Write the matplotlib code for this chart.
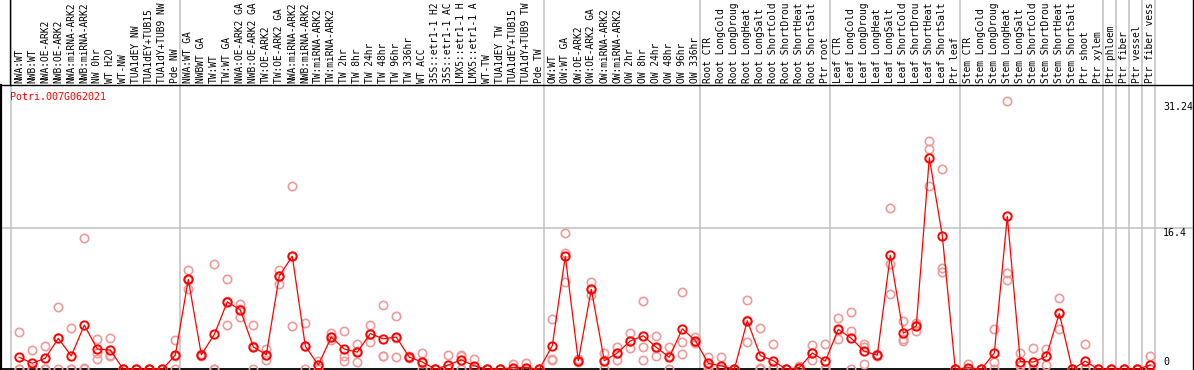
import matplotlib
matplotlib.use("Agg")
import matplotlib.pyplot as plt
from matplotlib.transforms import blended_transform_factory
import numpy as np

# sample labels, grouped by experiment
labels = [
    "NWA:WT", "NWB:WT", "NWA:OE-ARK2", "NWB:OE-ARK2", "NWA:miRNA-ARK2", "NWB:miRNA-ARK2",
    "NW 0hr", "WT H2O", "WT-NW", "TUA1dEY NW", "TUA1dEY+TUB15 NW", "TUA1dY+TUB9 NW", "Pde NW",
    "NWA:WT GA", "NWBWT GA", "TW:WT", "TW:WT GA", "NWA:OE-ARK2 GA", "NWB:OE-ARK2 GA",
    "TW:OE-ARK2", "TW:OE-ARK2 GA", "NWA:miRNA-ARK2 GA", "NWB:miRNA-ARK2 GA", "TW:miRNA-ARK2",
    "TW:miRNA-ARK2 GA", "TW 2hr", "TW 8hr", "TW 24hr", "TW 48hr", "TW 96hr", "TW 336hr",
    "WT ACC", "35S::etr1-1 H2O", "35S::etr1-1 ACC", "LMX5::etr1-1 H2O", "LMX5::etr1-1 ACC",
    "WT-TW", "TUA1dEY TW", "TUA1dEY+TUB15 TW", "TUA1dY+TUB9 TW", "Pde TW",
    "OW:WT", "OW:WT GA", "OW:OE-ARK2", "OW:OE-ARK2 GA", "OW:miRNA-ARK2", "OW:miRNA-ARK2 GA",
    "OW 2hr", "OW 8hr", "OW 24hr", "OW 48hr", "OW 96hr", "OW 336hr",
    "Root CTR", "Root LongCold", "Root LongDrought", "Root LongHeat", "Root LongSalt",
    "Root ShortCold", "Root ShortDrought", "Root ShortHeat", "Root ShortSalt", "Ptr root",
    "Leaf CTR", "Leaf LongCold", "Leaf LongDrought", "Leaf LongHeat", "Leaf LongSalt",
    "Leaf ShortCold", "Leaf ShortDrought", "Leaf ShortHeat", "Leaf ShortSalt", "Ptr leaf",
    "Stem CTR", "Stem LongCold", "Stem LongDrought", "Stem LongHeat", "Stem LongSalt",
    "Stem ShortCold", "Stem ShortDrought", "Stem ShortHeat", "Stem ShortSalt", "Ptr shoot",
    "Ptr xylem", "Ptr phloem", "Ptr fiber", "Ptr vessel", "Ptr fiber vessel",
]
group_sizes = [13, 28, 12, 10, 10, 11, 1, 1, 1, 1]

means = [
    1.4, 0.7, 1.3, 3.6, 1.55, 5.15, 2.35, 2.25, 0, 0, 0, 0, 1.65,
    10.45, 1.7, 4.05, 7.85, 6.9, 2.6, 1.7, 10.85, 13.15, 2.7, 0.5, 3.75, 2.35, 2.0,
    4.15, 3.55, 3.75, 1.4, 0.85, 0, 0.5, 1.1, 0.4, 0, 0, 0.2, 0.2, 0,
    2.75, 13.15, 1.0, 9.3, 1.0, 1.9, 3.3, 3.9, 2.55, 1.4, 4.7, 3.35,
    0.7, 0.4, 0, 5.65, 1.6, 1.0, 0, 0.2, 1.9, 0.95,
    4.65, 3.6, 2.1, 1.65, 13.25, 4.2, 5.05, 24.6, 15.55, 0,
    0.2, 0, 1.9, 17.8, 0.9, 0.85, 1.5, 6.5, 0, 0.95,
    0, 0, 0, 0, 0.5,
]

replicates = [
    [4.3, 0, 0], [2.25, 0, 0], [2.7, 0, 0], [7.2, 0, 3.6], [4.75, 0, 0], [15.3, 0, 0.1],
    [3.5, 1.9, 1.2], [3.6, 1.5, 1.7], [0, 0, 0], [0, 0, 0], [0, 0, 0], [0, 0, 0], [3.4, 0, 1.5],
    [11.6, 9.3, 10.4], [1.7, 1.6, 1.8], [12.3, 0, 0], [10.5, 5.1, 7.9], [7.55, 6.1, 7.0],
    [5.1, 0, 2.7], [2.35, 1.1, 1.7], [11.6, 9.95, 10.9], [21.3, 5.0, 13.2], [5.35, 0, 2.7],
    [1.0, 0, 0.5], [4.25, 3.4, 3.7], [4.45, 1.5, 1.0], [2.95, 0.85, 2.1], [5.2, 3.2, 4.1],
    [7.45, 1.55, 1.6], [6.25, 1.4, 3.6], [1.5, 1.3, 1.4], [1.85, 0, 0.7], [0, 0, 0],
    [1.65, 0, 0], [1.7, 1.5, 0], [1.2, 0, 0], [0, 0, 0], [0, 0, 0], [0.65, 0, 0],
    [0.7, 0, 0], [0, 0, 0],
    [5.9, 1.1, 1.25], [15.8, 10.1, 13.5], [1.2, 0.9, 1.0], [10.1, 8.6, 9.3], [1.9, 0, 1.1],
    [2.65, 1.1, 1.9], [4.25, 2.5, 3.3], [7.9, 2.55, 1.1], [3.9, 1.5, 2.5], [2.55, 0, 1.5],
    [8.95, 3.15, 1.75], [3.8, 3.2, 3.1],
    [1.4, 0.5, 0.2], [1.4, 0, 0], [0, 0, 0], [8.05, 3.2, 5.7], [4.8, 0, 0.1], [2.9, 0, 0.2],
    [0, 0, 0], [0.2, 0, 0.4], [2.8, 1.1, 1.9], [3.0, 0, 0],
    [6.0, 3.5, 4.6], [6.65, 4.5, 0], [3.0, 0.65, 2.6], [1.8, 1.6, 1.6], [18.7, 12.2, 8.7],
    [5.6, 3.5, 3.3], [5.35, 4.5, 5.2], [26.5, 25.6, 21.3], [23.3, 11.8, 11.3], [0, 0, 0],
    [0.6, 0, 0], [0, 0, 0], [4.65, 0.9, 0], [31.24, 11.2, 10.4], [1.9, 0.4, 0.5],
    [2.45, 0, 0], [2.4, 0.5, 1.6], [8.25, 4.65, 6.5], [0, 0, 0], [3.0, 0, 0],
    [0, 0, 0], [0, 0, 0], [0, 0, 0], [0, 0, 0], [1.55, 0, 0],
]

y_ticks = [31.24, 16.4, 0]
gene = "Potri.007G062021"

W, H = 1194, 370
top_px = 85          # height of the label strip
mono = "DejaVu Sans Mono"
fs = 7.2
max_chars = 14       # the strip only has room for this many characters

fig = plt.figure(figsize=(W / 100, H / 100), dpi=100)
ax = fig.add_axes([1 / W, 0, 1192 / W, (H - top_px) / H])
ax.set_xlim((1 - 19.3) / 13, (1193 - 19.3) / 13)
ax.set_ylim(-0.08, 33.06)
ax.set_xticks([])
ax.set_yticks([])
ax.spines["bottom"].set_visible(False)
ax.spines["left"].set_linewidth(1.6)
for s in ["top", "right"]:
    ax.spines[s].set_linewidth(1.0)

x = np.arange(len(labels))

# group separators
bounds = [-0.66] + list(np.cumsum(group_sizes) - 1 + 0.36)
ymax = H / (H - top_px)
for b in bounds:
    ax.axvline(b, ymin=0, ymax=ymax, color="#c0c0c0", lw=1.1, zorder=0, clip_on=False)
ax.axvline(-0.7, ymin=1, ymax=ymax, color="black", lw=1.0, clip_on=False)
ax.axvline(ax.get_xlim()[1], ymin=1, ymax=ymax, color="black", lw=1.0, clip_on=False)
ax.axhline(16.4, color="#c0c0c0", lw=1.1, zorder=0)
ax.hlines(0, ax.get_xlim()[0], bounds[-1], color="black", lw=1.3, zorder=1)

# replicate values
rx = np.repeat(x, 3)
ry = np.array(replicates).ravel()
ax.plot(rx, ry, "o", mfc="none", mec="#ef9a9a", ms=6, mew=1.2, zorder=2)

# mean line
ax.plot(x, means, "-", color="red", lw=0.9, marker="o", mfc="none", mec="red",
        ms=6, mew=1.4, zorder=3)

# column labels
trans = blended_transform_factory(ax.transData, fig.transFigure)
for i, lab in enumerate(labels):
    ax.text(i, (H - 83) / H, lab[:max_chars].rstrip(), rotation=90, ha="center", va="bottom",
            family=mono, fontsize=6.9, transform=trans, clip_on=False)

fig.text(10 / W, (H - 99.5) / H, gene, color="red", family=mono, fontsize=fs,
         ha="left", va="baseline")

for val, base in zip(y_ticks, [110.5, 236, 365]):
    fig.text(1163 / W, (H - base) / H, f"{val:g}", family=mono, fontsize=fs,
             ha="left", va="baseline")

fig.savefig("out.png", dpi=100)
